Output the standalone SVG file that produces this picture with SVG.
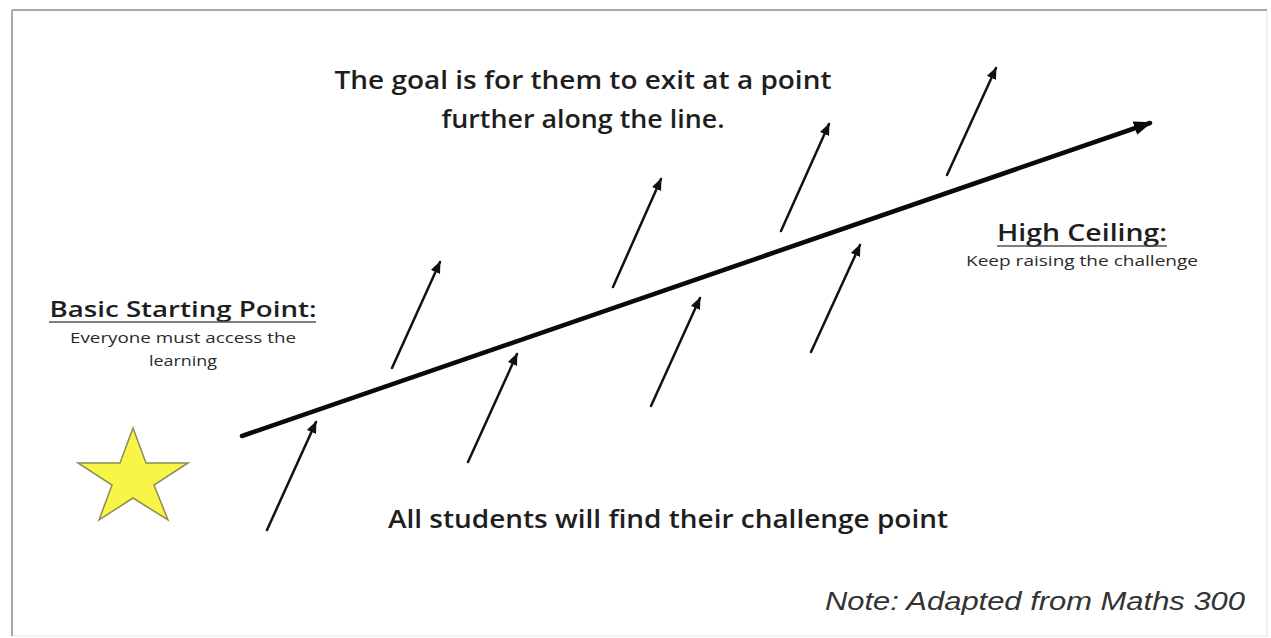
<svg xmlns="http://www.w3.org/2000/svg" width="1271" height="638" viewBox="0 0 1271 638">
  <style>
    .t { font-family: "Open Sans", "DejaVu Sans", sans-serif; fill: #1e1e1e; font-weight: 600; }
    .small { font-family: "Open Sans", "DejaVu Sans", sans-serif; fill: #2a2a2a; font-weight: 400; }
    .note { font-family: "Liberation Sans", Arial, sans-serif; font-style: italic; fill: #333; }
    .arr { stroke: #111; stroke-width: 2.5; fill: none; stroke-linecap: round; }
    .main { stroke: #0a0a0a; stroke-width: 4.5; fill: none; stroke-linecap: round; }
  </style>
  <defs>
    <marker id="ah" markerUnits="userSpaceOnUse" viewBox="0 0 12 10" refX="11" refY="5" markerWidth="12" markerHeight="10" orient="auto">
      <path d="M0,0 L12,5 L0,10 Z" fill="#111"/>
    </marker>
    <marker id="ahBig" markerUnits="userSpaceOnUse" viewBox="0 0 18 14" refX="16" refY="7" markerWidth="18" markerHeight="14" orient="auto">
      <path d="M0,0 L18,7 L0,14 Z" fill="#0a0a0a"/>
    </marker>
  </defs>
  <rect width="1271" height="638" fill="#ffffff"/>
  <g id="frame">
    <rect x="12" y="10" width="1255" height="626" fill="none" stroke="#e2e2e2" stroke-width="1"/>
    <line x1="12" y1="10" x2="1267" y2="10" stroke="#a8a8a8" stroke-width="2"/>
    <line x1="12" y1="10" x2="12" y2="636" stroke="#a8a8a8" stroke-width="2"/>
  </g>
  <g id="connectors">
    <line class="main" x1="242" y1="436" x2="1150" y2="123" marker-end="url(#ahBig)"/>
    <line class="arr" x1="267" y1="530" x2="316" y2="422" marker-end="url(#ah)"/>
    <line class="arr" x1="392" y1="368" x2="440" y2="262" marker-end="url(#ah)"/>
    <line class="arr" x1="468" y1="462" x2="517" y2="354" marker-end="url(#ah)"/>
    <line class="arr" x1="613" y1="287" x2="661" y2="179" marker-end="url(#ah)"/>
    <line class="arr" x1="651" y1="406" x2="700" y2="298" marker-end="url(#ah)"/>
    <line class="arr" x1="781" y1="231" x2="829" y2="124" marker-end="url(#ah)"/>
    <line class="arr" x1="811" y1="352" x2="860" y2="245" marker-end="url(#ah)"/>
    <line class="arr" x1="947" y1="175" x2="996" y2="68" marker-end="url(#ah)"/>
  </g>
  <g id="star">
    <polygon points="133,428 146,463 188,463 154,485 168,520 133,498 99,520 112,485 78,463 120,463" fill="#f7f545" stroke="#8c8c55" stroke-width="1.5" stroke-linejoin="miter"/>
  </g>
  <g id="goal">
    <text class="t" x="583" y="89" font-size="25" text-anchor="middle" textLength="497" lengthAdjust="spacingAndGlyphs">The goal is for them to exit at a point</text>
    <text class="t" x="583" y="128" font-size="25" text-anchor="middle" textLength="283" lengthAdjust="spacingAndGlyphs">further along the line.</text>
  </g>
  <g id="high-ceiling">
    <text class="t" x="1082" y="241" font-size="24" text-anchor="middle" textLength="170" lengthAdjust="spacingAndGlyphs">High Ceiling:</text>
    <line x1="997" y1="246" x2="1167" y2="246" stroke="#555" stroke-width="1.5"/>
    <text class="small" x="1082" y="266" font-size="14" text-anchor="middle" textLength="232" lengthAdjust="spacingAndGlyphs">Keep raising the challenge</text>
  </g>
  <g id="basic-start">
    <text class="t" x="183" y="317" font-size="22" text-anchor="middle" textLength="267" lengthAdjust="spacingAndGlyphs">Basic Starting Point:</text>
    <line x1="49" y1="322" x2="316" y2="322" stroke="#555" stroke-width="1.5"/>
    <text class="small" x="183" y="343" font-size="14" text-anchor="middle" textLength="226" lengthAdjust="spacingAndGlyphs">Everyone must access the</text>
    <text class="small" x="183" y="366" font-size="14" text-anchor="middle" textLength="68" lengthAdjust="spacingAndGlyphs">learning</text>
  </g>
  <g id="all-students">
    <text class="t" x="668" y="528" font-size="25" text-anchor="middle" textLength="560" lengthAdjust="spacingAndGlyphs">All students will find their challenge point</text>
  </g>
  <g id="note">
    <text class="note" x="1245" y="610" font-size="26" text-anchor="end" textLength="420" lengthAdjust="spacingAndGlyphs">Note: Adapted from Maths 300</text>
  </g>
</svg>
